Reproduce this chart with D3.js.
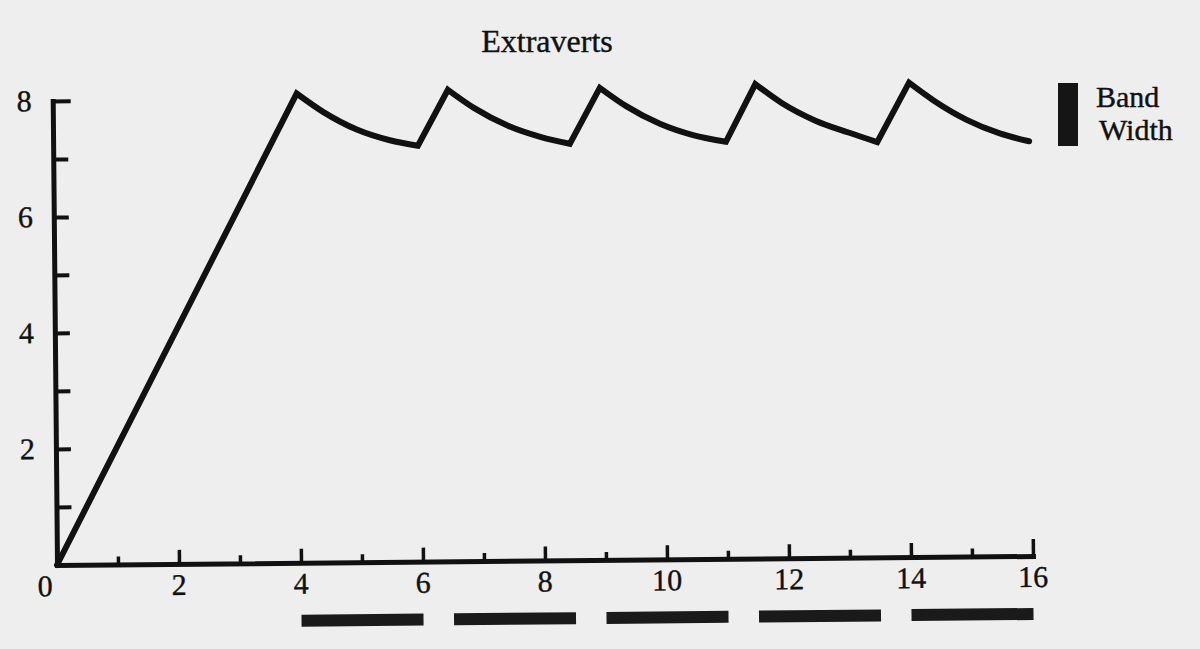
<!DOCTYPE html>
<html>
<head>
<meta charset="utf-8">
<script src="https://cdn.jsdelivr.net/npm/d3@7"></script>
<style>
    body { margin: 0; background: #eeeeee; }
    svg { display: block; }
    text { font-family: "Liberation Serif", "DejaVu Serif", serif; fill: #111; stroke: #111; stroke-width: 0.4; }
</style>
</head>
<body>
<svg id="chart" width="1200" height="649"></svg>
<script>
// values (time along x, level along y)
var times  = [0, 4.0, 4.43, 4.98, 5.52, 5.98, 6.48, 6.91, 7.46, 8.0, 8.47, 8.97, 9.40, 9.95, 10.49, 11.03,
              11.52, 11.95, 12.5, 13.04, 13.51, 14.04, 14.44, 14.98, 15.52, 16.0];
var values = [0, 8.09, 7.77, 7.46, 7.27, 7.17, 8.13, 7.81, 7.50, 7.30, 7.18, 8.14, 7.82, 7.51, 7.31, 7.19,
              8.18, 7.85, 7.54, 7.33, 7.16, 8.18, 7.87, 7.53, 7.29, 7.15];

var bandStarts = [4, 6.5, 9, 11.5, 14];
var bandEnds   = [6, 8.5, 11, 13.5, 16];

var xTicks = d3.range(1, 17);
var xLabels = [0, 2, 4, 6, 8, 10, 12, 14, 16];
var yTicks = d3.range(1, 9);
var yLabels = [2, 4, 6, 8];

(function(){
    var ink = "#111";
    var svg = d3.select("#chart");

    var x = d3.scaleLinear().domain([0, 16]).range([0, 976]);
    var y = d3.scaleLinear().domain([0, 8]).range([0, -464]);

    // the scanned page is slightly skewed, so the plot is tilted a little
    var g = svg.append("g")
        .attr("transform", "translate(57,565) rotate(-0.53)");

    // x axis, ticks point up
    var xAxis = g.append("g")
        .call(d3.axisTop(x).tickValues(xTicks).tickSize(14).tickSizeOuter(0).tickFormat(""));
    xAxis.select(".domain").attr("stroke", ink).attr("stroke-width", 5).attr("stroke-linecap", "square");
    xAxis.selectAll(".tick line")
        .attr("stroke", ink)
        .attr("stroke-width", 3.5)
        .attr("y2", function(d){ return d == 16 ? -17 : (d % 2 == 0 ? -14 : -8); });

    // y axis, ticks point right
    var yAxis = g.append("g")
        .call(d3.axisRight(y).tickValues(yTicks).tickSize(16).tickSizeOuter(0).tickFormat(""));
    yAxis.select(".domain").attr("stroke", ink).attr("stroke-width", 5).attr("stroke-linecap", "square");
    yAxis.selectAll(".tick line")
        .attr("stroke", ink)
        .attr("stroke-width", 4)
        .attr("x2", function(d){ return d == 8 ? 18 : 15; });

    g.selectAll(".xlab")
        .data(xLabels)
        .enter()
        .append("text")
        .attr("class", "xlab")
        .attr("x", function(d){ return d == 0 ? x(d) - 12 : x(d); })
        .attr("y", 31)
        .attr("text-anchor", "middle")
        .attr("font-size", 30)
        .text(function(d){ return d; });

    g.selectAll(".ylab")
        .data(yLabels)
        .enter()
        .append("text")
        .attr("class", "ylab")
        .attr("x", -21)
        .attr("y", function(d){ return y(d) + 10; })
        .attr("text-anchor", "end")
        .attr("font-size", 30)
        .text(function(d){ return d; });

    // band width bars under the axis
    g.selectAll(".band")
        .data(bandStarts)
        .enter()
        .append("rect")
        .attr("class", "band")
        .attr("x", function(d){ return x(d); })
        .attr("y", 52)
        .attr("width", function(d, i){ return x(bandEnds[i]) - x(d); })
        .attr("height", 12)
        .attr("fill", "#1a1a1a");

    // the line: straight rises, curved decays
    var pts = times.map(function(t, i){ return [x(t), y(values[i])]; });
    var peaks = [];
    for (var i = 1; i < pts.length; i++){
        if (values[i] > values[i-1] && (i == pts.length - 1 || values[i] > values[i+1])) peaks.push(i);
    }
    var decay = d3.line().curve(d3.curveMonotoneX);
    var d = "M" + pts[0][0] + "," + pts[0][1];
    peaks.forEach(function(p, k){
        d += "L" + pts[p][0] + "," + pts[p][1];
        var end = k < peaks.length - 1 ? peaks[k+1] - 1 : pts.length - 1;
        d += decay(pts.slice(p, end + 1)).replace(/^M/, "L");
    });
    g.append("path")
        .attr("d", d)
        .attr("fill", "none")
        .attr("stroke", ink)
        .attr("stroke-width", 6)
        .attr("stroke-linejoin", "miter")
        .attr("stroke-linecap", "round");

    // title and legend
    svg.append("text")
        .attr("x", 547)
        .attr("y", 52)
        .attr("text-anchor", "middle")
        .attr("font-size", 32)
        .text("Extraverts");

    svg.append("rect")
        .attr("x", 1058)
        .attr("y", 83)
        .attr("width", 20)
        .attr("height", 63)
        .attr("fill", "#151515");
    svg.append("text").attr("x", 1096).attr("y", 107).attr("font-size", 30).text("Band");
    svg.append("text").attr("x", 1099).attr("y", 140).attr("font-size", 30).text("Width");
})();
</script>
</body>
</html>
